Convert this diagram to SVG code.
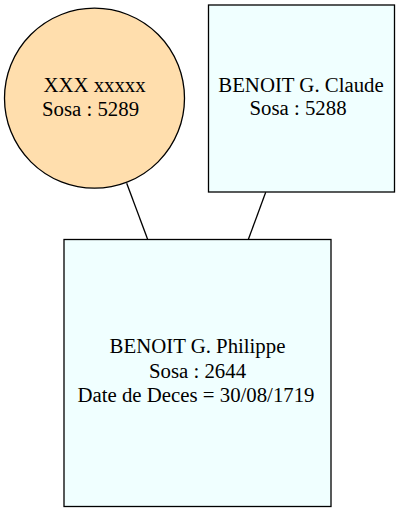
<svg xmlns="http://www.w3.org/2000/svg" width="400" height="512" viewBox="0 0 400 512">
<style>
text{font-family:"Liberation Serif","Times New Roman",serif;font-size:20.8px;fill:#000;text-anchor:middle}
.box{fill:#f0ffff;stroke:#000;stroke-width:1.3}
.circ{fill:#ffdead;stroke:#000;stroke-width:1.3}
.edge{stroke:#000;stroke-width:1.3;fill:none}
</style>
<rect width="400" height="512" fill="#fff"/>
<g id="connectors">
<line class="edge" x1="126.7" y1="183.3" x2="147.7" y2="239.5"/>
<line class="edge" x1="265.7" y1="192.3" x2="248.3" y2="239.5"/>
</g>
<g id="node-5289">
<circle class="circ" cx="94.5" cy="98.2" r="90"/>
<text x="94.5" y="92.3">XXX xxxxx</text>
<text x="90.5" y="115.5">Sosa : 5289</text>
</g>
<g id="node-5288">
<rect class="box" x="208.5" y="5" width="186" height="187"/>
<text x="301" y="91.7">BENOIT G. Claude</text>
<text x="298" y="115">Sosa : 5288</text>
</g>
<g id="node-2644">
<rect class="box" x="64" y="239.5" width="267" height="267"/>
<text x="197.5" y="353.3">BENOIT G. Philippe</text>
<text x="197.5" y="377.7">Sosa : 2644</text>
<text x="196" y="401.7">Date de Deces = 30/08/1719</text>
</g>
</svg>
